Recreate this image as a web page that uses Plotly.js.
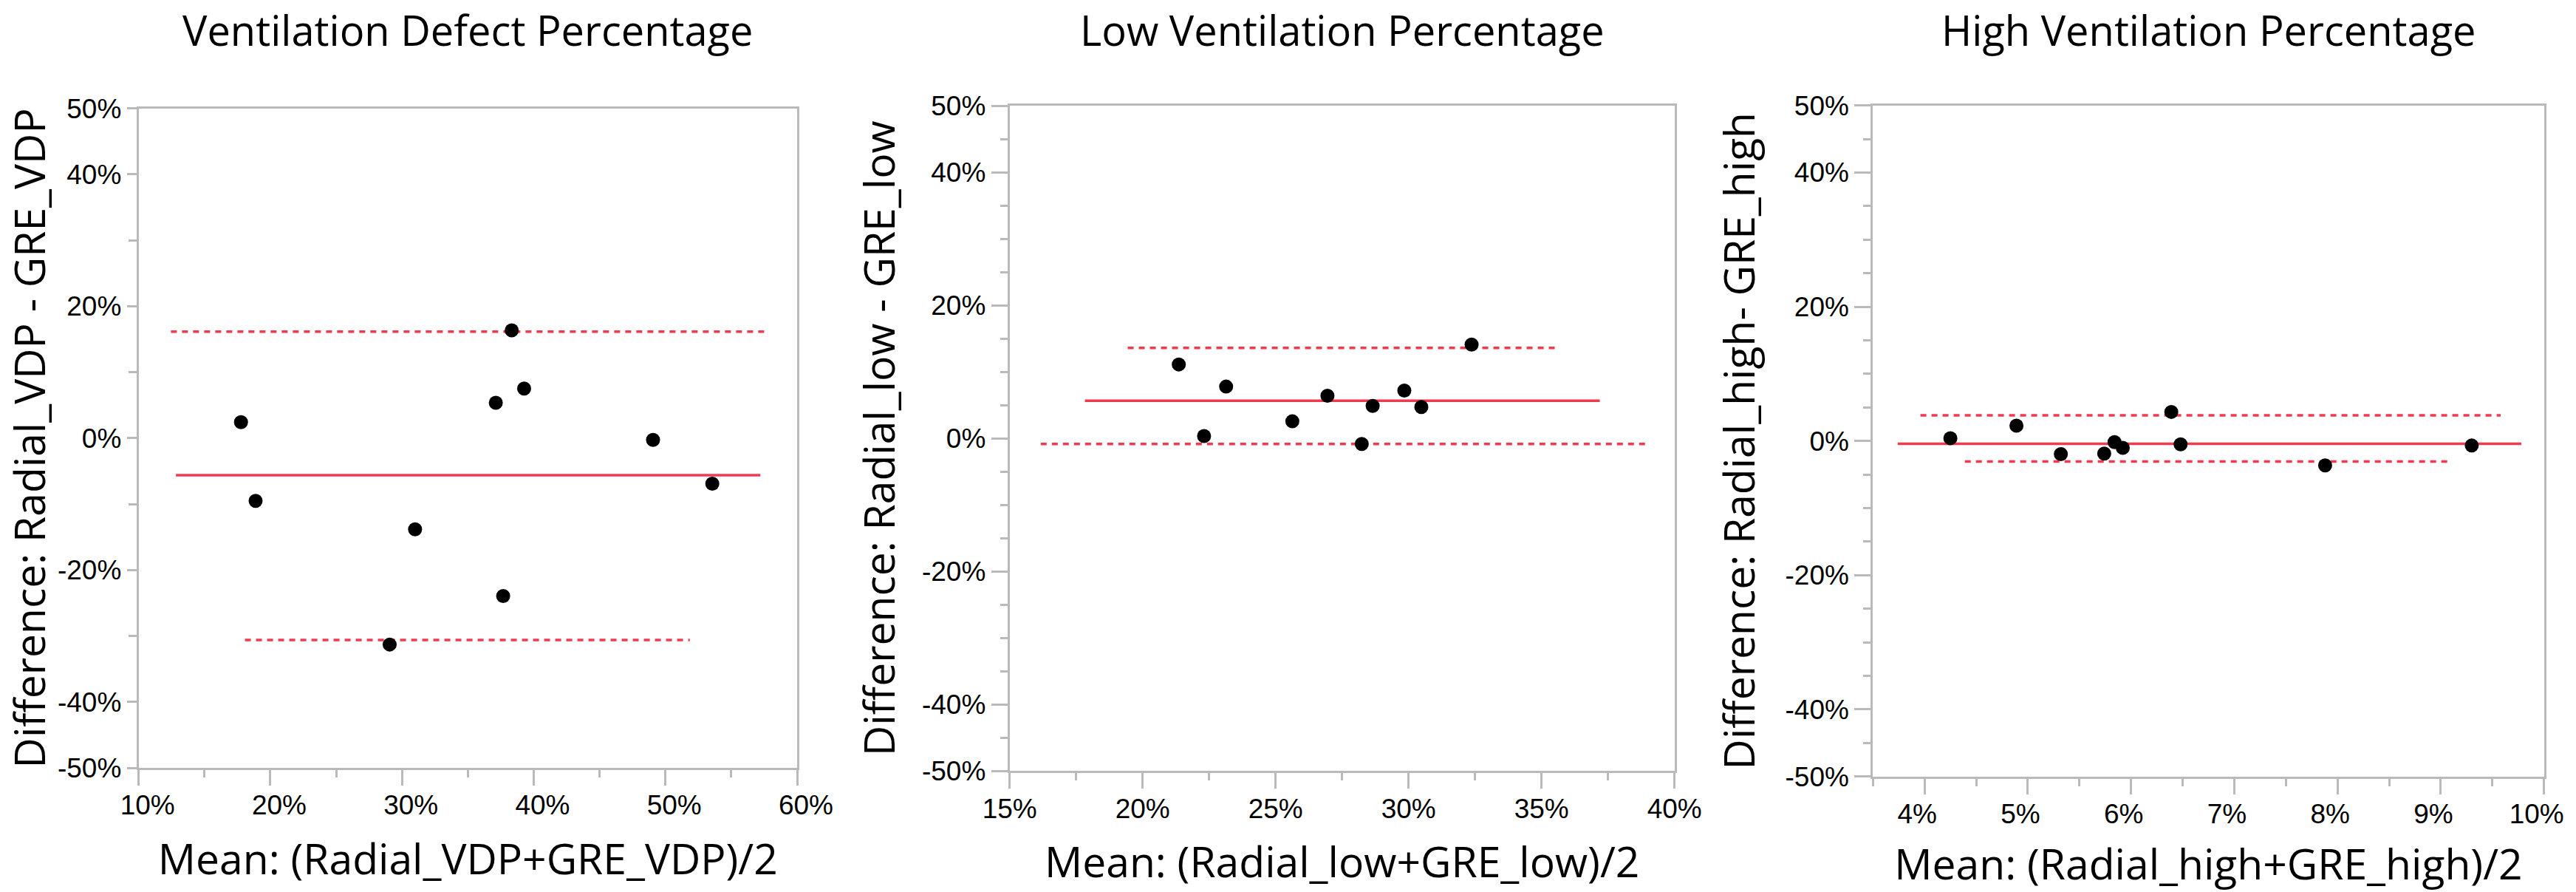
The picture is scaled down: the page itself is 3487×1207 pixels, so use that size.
<!DOCTYPE html>
<html>
<head>
<meta charset="utf-8">
<script src="https://cdn.plot.ly/plotly-3.0.1.min.js"></script>
<style>html,body{margin:0;padding:0;background:#fff;}#chart{width:3487px;height:1207px;}</style>
</head>
<body>
<div id="chart"></div>
<script>
// ---------- data (values in percent) ----------
const panelTitles = ['Ventilation Defect Percentage', 'Low Ventilation Percentage', 'High Ventilation Percentage'];
const xTitles = ['Mean: (Radial_VDP+GRE_VDP)/2', 'Mean: (Radial_low+GRE_low)/2', 'Mean: (Radial_high+GRE_high)/2'];
const yTitles = ['Difference: Radial_VDP - GRE_VDP', 'Difference: Radial_low - GRE_low', 'Difference: Radial_high- GRE_high'];

const vdpMean = [17.77, 18.88, 29.06, 30.99, 37.12, 37.68, 38.33, 39.27, 49.06, 53.56];
const vdpDiff = [2.42, -9.51, -31.3, -13.83, 5.36, -23.94, 16.34, 7.52, -0.26, -6.91];
const lowMean = [21.36, 22.31, 23.14, 25.63, 26.95, 28.24, 28.65, 29.84, 30.48, 32.37];
const lowDiff = [11.11, 0.34, 7.78, 2.56, 6.41, -0.85, 4.87, 7.18, 4.70, 14.10];
const highMean = [4.25, 4.89, 5.32, 5.74, 5.84, 5.92, 6.39, 6.48, 7.88, 9.30];
const highDiff = [0.42, 2.29, -1.95, -1.87, -0.17, -1.02, 4.33, -0.51, -3.65, -0.68];

// mean difference (solid) and limits of agreement (dashed): level and x-extent
const vdpBias = -5.62,  vdpBiasX = [12.83, 57.21];
const vdpUpper = 16.16, vdpUpperX = [12.45, 57.64];
const vdpLower = -30.6, vdpLowerX = [18.07, 51.85];
const lowBias = 5.64,   lowBiasX = [17.83, 37.19];
const lowUpper = 13.59, lowUpperX = [19.44, 35.53];
const lowLower = -0.85, lowLowerX = [16.17, 38.89];
const highBias = -0.42, highBiasX = [3.74, 9.78];
const highUpper = 3.82, highUpperX = [3.96, 9.58];
const highLower = -3.06, highLowerX = [4.39, 9.10];

// tick values / labels
const yTickVals = [-50, -40, -20, 0, 20, 40, 50];
const yTickText = ['-50%', '-40%', '-20%', '0%', '20%', '40%', '50%'];
const yMinor1 = [-30, -10, 10, 30];
const yMinor23 = [-45, -35, -30, -25, -15, -10, -5, 5, 10, 15, 25, 30, 35, 45];
const x1Ticks = [10, 20, 30, 40, 50, 60];
const x1Minor = [15, 25, 35, 45, 55];
const x2Ticks = [15, 20, 25, 30, 35, 40];
const x2Minor = [17.5, 22.5, 27.5, 32.5, 37.5];
const x3Ticks = [4, 5, 6, 7, 8, 9, 10];
const x3Minor = [3.5, 4.5, 5.5, 6.5, 7.5, 8.5, 9.5];

// ---------- build ----------
const W = 3487, H = 1207;
const RED = '#f03a50';
const GRAY = '#bababa';
const pct = v => v + '%';

const panels = [
  {mean: vdpMean, diff: vdpDiff, bias: vdpBias, biasX: vdpBiasX, up: vdpUpper, upX: vdpUpperX, lo: vdpLower, loX: vdpLowerX},
  {mean: lowMean, diff: lowDiff, bias: lowBias, biasX: lowBiasX, up: lowUpper, upX: lowUpperX, lo: lowLower, loX: lowLowerX},
  {mean: highMean, diff: highDiff, bias: highBias, biasX: highBiasX, up: highUpper, upX: highUpperX, lo: highLower, loX: highLowerX}
];

const traces = [];
panels.forEach((p, i) => {
  const xa = i === 0 ? 'x' : 'x' + (i + 1);
  const ya = i === 0 ? 'y' : 'y' + (i + 1);
  traces.push({x: p.biasX, y: [p.bias, p.bias], mode: 'lines', xaxis: xa, yaxis: ya,
    line: {color: RED, width: 3.5}, hoverinfo: 'skip'});
  traces.push({x: p.upX, y: [p.up, p.up], mode: 'lines', xaxis: xa, yaxis: ya,
    line: {color: RED, width: 3.5, dash: '8px,7px'}, hoverinfo: 'skip'});
  traces.push({x: p.loX, y: [p.lo, p.lo], mode: 'lines', xaxis: xa, yaxis: ya,
    line: {color: RED, width: 3.5, dash: '8px,7px'}, hoverinfo: 'skip'});
  traces.push({x: p.mean, y: p.diff, mode: 'markers', xaxis: xa, yaxis: ya,
    marker: {color: '#000', size: 19}});
});

// pixel boxes of the plot frames
const boxes = [
  {l: 187.7, r: 1079, t: 146.7, b: 1039},
  {l: 1366.7, r: 2266.7, t: 143, b: 1043.3},
  {l: 2535.3, r: 3443.7, t: 142.7, b: 1050.7}
];

const tickFont = {family: 'Liberation Sans, Arial, sans-serif', size: 37, color: '#000'};
const titleFont = {family: 'Open Sans, sans-serif', size: 57, color: '#000'};

function xAxis(i, range, ticks, minor, shift) {
  const b = boxes[i];
  return {
    domain: [b.l / W, b.r / W], range: range, anchor: i === 0 ? 'y' : 'y' + (i + 1),
    showline: true, mirror: true, linecolor: GRAY, linewidth: 3,
    showgrid: false, zeroline: false, fixedrange: true,
    tickmode: 'array', tickvals: ticks, ticktext: ticks.map(pct),
    ticks: 'outside', ticklen: 21, tickwidth: 3, tickcolor: GRAY,
    ticklabelshift: shift, ticklabelstandoff: -5,
    minor: {tickmode: 'array', tickvals: minor, ticks: 'outside', ticklen: 10, tickwidth: 3, tickcolor: GRAY, showgrid: false},
    tickfont: tickFont,
    title: {text: xTitles[i], font: titleFont, standoff: 34}
  };
}
function yAxis(i, major, minor, minorVals, standoff) {
  const b = boxes[i];
  return {
    domain: [1 - b.b / H, 1 - b.t / H], range: [-50, 50], anchor: i === 0 ? 'x' : 'x' + (i + 1),
    showline: true, mirror: true, linecolor: GRAY, linewidth: 3,
    showgrid: false, zeroline: false, fixedrange: true,
    tickmode: 'array', tickvals: yTickVals, ticktext: yTickText,
    ticks: 'outside', ticklen: major, tickwidth: 3, tickcolor: GRAY,
    minor: {tickmode: 'array', tickvals: minorVals, ticks: 'outside', ticklen: minor, tickwidth: 3, tickcolor: GRAY, showgrid: false},
    tickfont: tickFont,
    title: {text: yTitles[i], font: titleFont, standoff: standoff}
  };
}

const annotations = panelTitles.map((t, i) => ({
  text: t, xref: 'paper', yref: 'paper',
  x: ((boxes[i].l + boxes[i].r) / 2) / W, y: 1,
  xanchor: 'center', yanchor: 'top', showarrow: false,
  font: {family: 'Open Sans, sans-serif', size: 56, color: '#000'}
}));

const layout = {
  width: W, height: H,
  margin: {l: 0, r: 0, t: 0, b: 0},
  paper_bgcolor: '#fff', plot_bgcolor: '#fff',
  showlegend: false,
  xaxis: xAxis(0, [10, 60], x1Ticks, x1Minor, 12),
  xaxis2: xAxis(1, [15, 40], x2Ticks, x2Minor, 0),
  xaxis3: xAxis(2, [3.5, 10], x3Ticks, x3Minor, -10),
  yaxis: yAxis(0, 13, 11, yMinor1, 30),
  yaxis2: yAxis(1, 22, 10, yMinor23, 18),
  yaxis3: yAxis(2, 22, 10, yMinor23, 23),
  annotations: annotations
};

Plotly.newPlot('chart', traces, layout, {displayModeBar: false, staticPlot: true});
</script>
</body>
</html>
